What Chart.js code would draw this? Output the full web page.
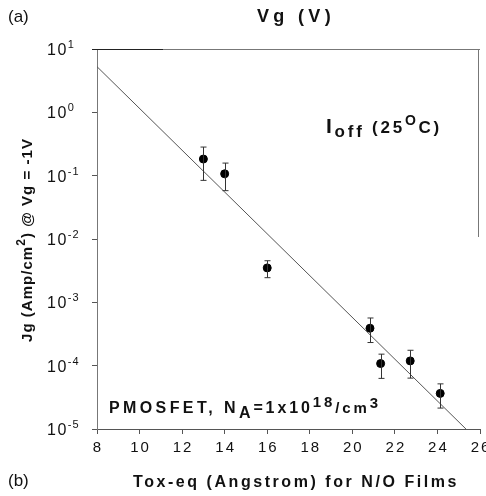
<!DOCTYPE html>
<html lang="en">
<head>
    <meta charset="UTF-8">
    <title>Jg vs Tox-eq</title>
    <style>
        body {
            margin: 0;
            padding: 0;
            background-color: #fff;
        }
        canvas {
            display: block;
        }
    </style>
</head>
<body>
<canvas id="jgChart" width="486" height="496"></canvas>
<script src="https://cdn.jsdelivr.net/npm/chart.js"></script>
<script>
    // values
    const toxEq = [13.0, 14.0, 16.0, 20.83, 21.33, 22.72, 24.13];
    const jg = [0.183, 0.107, 3.5e-3, 3.9e-4, 1.08e-4, 1.19e-4, 3.65e-5];
    const jgHigh = [0.283, 0.158, 4.54e-3, 5.66e-4, 1.52e-4, 1.75e-4, 5.16e-5];
    const jgLow = [0.0843, 0.058, 2.45e-3, 2.32e-4, 6.3e-5, 6.36e-5, 2.14e-5];
    const fitX = [8, 25.34];
    const fitY = [5.26, 1e-5];
    const xTicks = [8, 10, 12, 14, 16, 18, 20, 22, 24, 26];
    const yExponents = [1, 0, -1, -2, -3, -4, -5];

    const FONT = '"Liberation Sans", Arial, sans-serif';

    function setFont(ctx, p) {
        ctx.font = (p.bold ? 'bold ' : '') + p.size + 'px ' + FONT;
        ctx.letterSpacing = (p.sp || 0) + 'px';
    }

    // draws a run of text pieces {t, size, bold, dy, sp}, stretched to width w
    function drawRun(ctx, x, y, pieces, w) {
        if (w) {
            let total = 0, chars = 0;
            pieces.forEach(p => {
                setFont(ctx, p);
                total += ctx.measureText(p.t).width;
                chars += p.t.length;
            });
            const extra = (w - total) / chars;
            pieces = pieces.map(p => Object.assign({}, p, {sp: (p.sp || 0) + extra}));
        }
        pieces.forEach(p => {
            setFont(ctx, p);
            ctx.fillText(p.t, x, y + (p.dy || 0));
            x += ctx.measureText(p.t).width;
        });
        ctx.letterSpacing = '0px';
        return x;
    }

    const decorations = {
        id: 'decorations',
        afterDraw(chart) {
            const ctx = chart.ctx;
            const area = chart.chartArea;
            const xs = chart.scales.x;
            const ys = chart.scales.y;
            ctx.save();

            // top frame and partial right frame
            ctx.strokeStyle = '#777';
            ctx.lineWidth = 1;
            ctx.beginPath();
            ctx.moveTo(area.left, area.top + 0.5);
            ctx.lineTo(area.right, area.top + 0.5);
            ctx.moveTo(area.right - 1.5, area.top);
            ctx.lineTo(area.right - 1.5, 237);
            ctx.stroke();
            ctx.strokeStyle = '#222';
            ctx.beginPath();
            ctx.moveTo(area.left - 5, area.top + 0.5);
            ctx.lineTo(163, area.top + 0.5);
            ctx.stroke();

            // error bars
            ctx.strokeStyle = '#333';
            toxEq.forEach((x, i) => {
                const px = Math.round(xs.getPixelForValue(x)) + 0.5;
                const top = ys.getPixelForValue(jgHigh[i]);
                const bot = ys.getPixelForValue(jgLow[i]);
                ctx.beginPath();
                ctx.moveTo(px, top);
                ctx.lineTo(px, bot);
                ctx.moveTo(px - 3, top);
                ctx.lineTo(px + 3, top);
                ctx.moveTo(px - 3, bot);
                ctx.lineTo(px + 3, bot);
                ctx.stroke();
            });

            ctx.fillStyle = '#111';
            ctx.textBaseline = 'alphabetic';
            ctx.textAlign = 'left';

            // y tick labels
            yExponents.forEach(e => {
                const py = ys.getPixelForValue(Math.pow(10, e));
                drawRun(ctx, 47, py + 6, [
                    {t: '10', size: 16, sp: 1.5},
                    {t: e < 0 ? '-' + (-e) : String(e), size: 11, dy: -7, sp: 1}
                ]);
            });

            // x tick labels
            ctx.font = '15px ' + FONT;
            ctx.letterSpacing = '2px';
            xTicks.forEach(v => {
                const px = xs.getPixelForValue(v);
                const w = ctx.measureText(String(v)).width - 2;
                ctx.fillText(String(v), px - w / 2, 452);
            });
            ctx.letterSpacing = '0px';

            // panel letters and titles
            ctx.font = '17px ' + FONT;
            ctx.fillText('(a)', 8, 22);
            ctx.fillText('(b)', 8, 486);
            drawRun(ctx, 257, 22, [{t: 'Vg (V)', size: 18, bold: true}], 78);
            drawRun(ctx, 133, 487, [{t: 'Tox-eq (Angstrom) for N/O Films', size: 16, bold: true}], 326);

            // y title, rotated
            ctx.save();
            ctx.translate(32, 342);
            ctx.rotate(-Math.PI / 2);
            drawRun(ctx, 0, 0, [
                {t: 'Jg (Amp/cm', size: 15, bold: true},
                {t: '2', size: 12, bold: true, dy: -7},
                {t: ') @ Vg = -1V', size: 15, bold: true}
            ], 204);
            ctx.restore();

            // annotations
            drawRun(ctx, 326, 133, [
                {t: 'I', size: 21, bold: true},
                {t: 'off', size: 17, bold: true, dy: 4},
                {t: ' (25', size: 17, bold: true},
                {t: 'O', size: 14, bold: true, dy: -8},
                {t: 'C)', size: 17, bold: true}
            ], 116);
            drawRun(ctx, 109, 413, [
                {t: 'PMOSFET, N', size: 16, bold: true, sp: 0.5},
                {t: 'A', size: 16, bold: true, dy: 5},
                {t: '=1x10', size: 16, bold: true},
                {t: '18', size: 15, bold: true, dy: -6},
                {t: '/cm', size: 15, bold: true},
                {t: '3', size: 15, bold: true, dy: -5}
            ], 272);

            ctx.restore();
        }
    };

    new Chart(document.getElementById('jgChart').getContext('2d'), {
        type: 'scatter',
        data: {
            datasets: [{
                type: 'line',
                data: fitX.map((x, i) => ({x: x, y: fitY[i]})),
                borderColor: '#555',
                borderWidth: 1,
                pointRadius: 0,
                fill: false
            }, {
                data: toxEq.map((x, i) => ({x: x, y: jg[i]})),
                backgroundColor: '#000',
                borderColor: '#000',
                pointRadius: 4,
                pointHoverRadius: 4
            }]
        },
        options: {
            responsive: false,
            animation: false,
            layout: {padding: {top: 49, right: 6, left: 0, bottom: 0}},
            plugins: {
                legend: {display: false},
                tooltip: {enabled: false}
            },
            scales: {
                x: {
                    type: 'linear',
                    min: 8,
                    max: 26,
                    afterBuildTicks: s => { s.ticks = xTicks.map(v => ({value: v})); },
                    afterFit: s => { s.height = 67; },
                    ticks: {display: false},
                    grid: {drawOnChartArea: false, tickLength: 5, color: '#555'},
                    border: {color: '#555'}
                },
                y: {
                    type: 'logarithmic',
                    min: 1e-5,
                    max: 10,
                    afterBuildTicks: s => { s.ticks = yExponents.map(e => ({value: Math.pow(10, e)})); },
                    afterFit: s => { s.width = 97; },
                    ticks: {display: false},
                    grid: {drawOnChartArea: false, tickLength: 5, color: '#555'},
                    border: {color: '#777'}
                }
            }
        },
        plugins: [decorations]
    });
</script>
</body>
</html>
